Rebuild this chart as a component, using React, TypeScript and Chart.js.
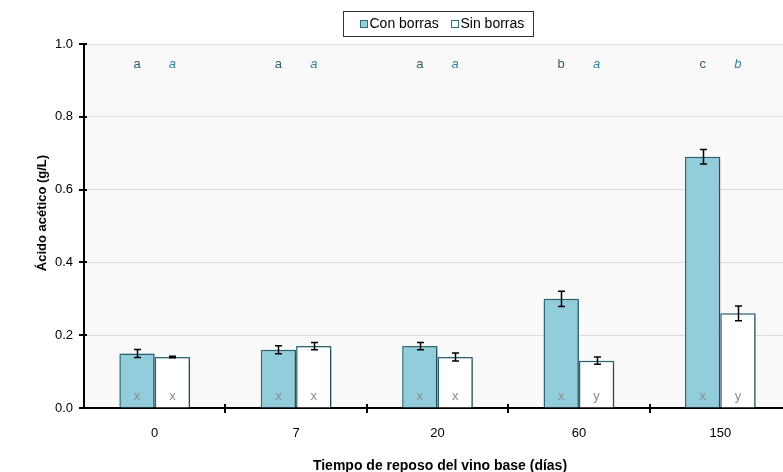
import React, { useEffect, useRef } from "react";
import { Chart, registerables } from "chart.js";

Chart.register(...registerables);

const categories = ["0", "7", "20", "60", "150"];
const conBorras = [0.15, 0.16, 0.17, 0.3, 0.69];
const conErr = [0.011, 0.011, 0.01, 0.021, 0.02];
const sinBorras = [0.14, 0.17, 0.14, 0.13, 0.26];
const sinErr = [0.002, 0.01, 0.011, 0.01, 0.02];
const topLettersCon = ["a", "a", "a", "b", "c"];
const topLettersSin = ["a", "a", "a", "a", "b"];
const bottomLettersCon = ["x", "x", "x", "x", "x"];
const bottomLettersSin = ["x", "x", "x", "y", "y"];
const yTicks = [0, 0.2, 0.4, 0.6, 0.8, 1.0];
const seriesNames = ["Con borras", "Sin borras"];
const xTitle = "Tiempo de reposo del vino base (días)";
const yTitle = "Ácido acético (g/L)";

const FONT = "Arial, 'Liberation Sans', sans-serif";
const BLUE = "#92CDDC";
const BORDER = "#2E6B7B";

const decorPlugin = {
  id: "decor",
  beforeDraw(chart: any) {
    const { ctx, chartArea } = chart;
    ctx.save();
    ctx.fillStyle = "#F9F9F9";
    ctx.fillRect(chartArea.left, chartArea.top, chartArea.right - chartArea.left, chartArea.bottom - chartArea.top);
    ctx.restore();
  },
  beforeDatasetsDraw(chart: any) {
    const { ctx } = chart;
    ctx.save();
    ctx.shadowColor = "rgba(0,0,0,0.35)";
    ctx.shadowBlur = 4;
    ctx.shadowOffsetX = 2;
    ctx.shadowOffsetY = 1;
  },
  afterDatasetsDraw(chart: any) {
    const { ctx, scales } = chart;
    ctx.restore();
    const y = scales.y;
    const errs = [conErr, sinErr];
    const vals = [conBorras, sinBorras];
    ctx.save();
    ctx.strokeStyle = "#000";
    ctx.lineWidth = 1.5;
    [0, 1].forEach((di) => {
      const meta = chart.getDatasetMeta(di);
      meta.data.forEach((bar: any, i: number) => {
        const x = Math.round(bar.x) + 0.5;
        const yt = y.getPixelForValue(vals[di][i] + errs[di][i]);
        const yb = y.getPixelForValue(vals[di][i] - errs[di][i]);
        ctx.beginPath();
        ctx.moveTo(x, yt);
        ctx.lineTo(x, yb);
        ctx.moveTo(x - 3.5, yt);
        ctx.lineTo(x + 3.5, yt);
        ctx.moveTo(x - 3.5, yb);
        ctx.lineTo(x + 3.5, yb);
        ctx.stroke();
      });
    });
    ctx.textAlign = "center";
    ctx.textBaseline = "middle";
    const topY = y.getPixelForValue(0.945);
    const botY = y.getPixelForValue(0.033);
    const m0 = chart.getDatasetMeta(0);
    const m1 = chart.getDatasetMeta(1);
    m0.data.forEach((bar: any, i: number) => {
      ctx.font = `13px ${FONT}`;
      ctx.fillStyle = "#2F5D6B";
      ctx.fillText(topLettersCon[i], bar.x, topY);
      ctx.fillStyle = "#8C8C8C";
      ctx.fillText(bottomLettersCon[i], bar.x, botY);
    });
    m1.data.forEach((bar: any, i: number) => {
      ctx.font = `italic 13px ${FONT}`;
      ctx.fillStyle = "#31849B";
      ctx.fillText(topLettersSin[i], bar.x, topY);
      ctx.font = `13px ${FONT}`;
      ctx.fillStyle = "#8C8C8C";
      ctx.fillText(bottomLettersSin[i], bar.x, botY);
    });
    ctx.restore();
  },
  afterDraw(chart: any) {
    const { ctx, chartArea, scales } = chart;
    ctx.save();
    ctx.strokeStyle = "#000";
    ctx.lineWidth = 2;
    yTicks.forEach((v) => {
      const py = Math.round(scales.y.getPixelForValue(v));
      ctx.beginPath();
      ctx.moveTo(chartArea.left - 5, py);
      ctx.lineTo(chartArea.left + 3, py);
      ctx.stroke();
    });
    const n = categories.length;
    const w = (chartArea.right - chartArea.left) / n;
    for (let i = 1; i < n; i++) {
      const px = Math.round(chartArea.left + i * w);
      ctx.beginPath();
      ctx.moveTo(px, chartArea.bottom - 4);
      ctx.lineTo(px, chartArea.bottom + 5);
      ctx.stroke();
    }
    // axis titles
    ctx.fillStyle = "#000";
    ctx.textAlign = "center";
    ctx.textBaseline = "middle";
    ctx.font = `bold 14px ${FONT}`;
    ctx.fillText(xTitle, 440, 466);
    ctx.save();
    ctx.translate(42, 213);
    ctx.rotate(-Math.PI / 2);
    ctx.font = `bold 13px ${FONT}`;
    ctx.fillText(yTitle, 0, 0);
    ctx.restore();
    // legend
    const lx = 343, ly = 11, lw = 190, lh = 25;
    ctx.lineWidth = 1;
    ctx.strokeStyle = "#333";
    ctx.fillStyle = "#fff";
    ctx.fillRect(lx, ly, lw, lh);
    ctx.strokeRect(lx + 0.5, ly + 0.5, lw, lh);
    ctx.font = `14px ${FONT}`;
    ctx.textAlign = "left";
    const items = [
      { x: 360, fill: BLUE, label: seriesNames[0] },
      { x: 451, fill: "#fff", label: seriesNames[1] },
    ];
    items.forEach((it) => {
      ctx.fillStyle = it.fill;
      ctx.fillRect(it.x, 20, 8, 8);
      ctx.strokeStyle = BORDER;
      ctx.lineWidth = 1;
      ctx.strokeRect(it.x + 0.5, 20.5, 7, 7);
      ctx.fillStyle = "#000";
      ctx.fillText(it.label, it.x + 9.5, 24.5);
    });
    ctx.restore();
  },
};

export default function App() {
  const ref = useRef<HTMLCanvasElement>(null);
  useEffect(() => {
    if (!ref.current) return;
    const chart = new Chart(ref.current, {
      type: "bar",
      data: {
        labels: categories,
        datasets: [
          {
            label: seriesNames[0],
            data: conBorras,
            backgroundColor: BLUE,
            borderColor: BORDER,
            borderWidth: 1.5,
            categoryPercentage: 0.5,
            barPercentage: 1.0,
          },
          {
            label: seriesNames[1],
            data: sinBorras,
            backgroundColor: "#FFFFFF",
            borderColor: BORDER,
            borderWidth: 1.5,
            categoryPercentage: 0.5,
            barPercentage: 1.0,
          },
        ],
      },
      options: {
        responsive: false,
        animation: false,
        layout: { padding: { top: 44, right: 9, left: 0, bottom: 0 } },
        plugins: { legend: { display: false }, tooltip: { enabled: false } },
        scales: {
          x: {
            grid: { display: false },
            border: { display: true, color: "#000", width: 2 },
            ticks: { color: "#000", font: { family: FONT, size: 13 }, padding: 10 },
            afterFit: (s: any) => { s.height = 64; },
          },
          y: {
            min: 0,
            max: 1.0,
            ticks: {
              stepSize: 0.2,
              color: "#000",
              font: { family: FONT, size: 13 },
              padding: 11,
              callback: (v: any) => Number(v).toFixed(1),
            },
            grid: { color: "#DCDCDC", lineWidth: 1, drawTicks: false },
            border: { display: true, color: "#000", width: 2 },
            afterFit: (s: any) => { s.width = 84; },
          },
        },
      },
      plugins: [decorPlugin],
    });
    return () => chart.destroy();
  }, []);
  return (
    <div style={{ position: "fixed", left: 0, top: 0, width: 783, height: 472, overflow: "hidden", background: "#fff" }}>
      <canvas ref={ref} width={800} height={472} style={{ display: "block" }} />
    </div>
  );
}
